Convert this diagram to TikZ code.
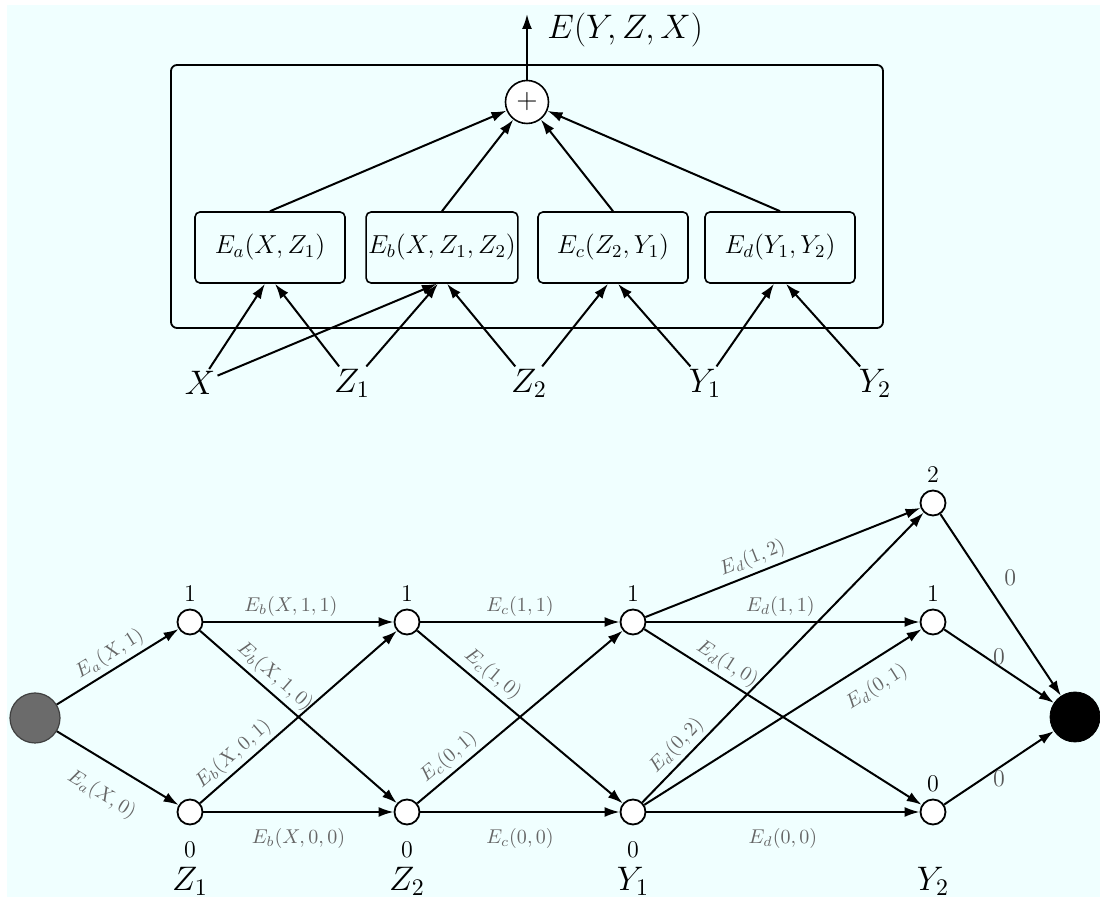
\documentclass[tikz,border=0pt]{standalone}
\usepackage{fix-cm}
\usetikzlibrary{positioning, arrows.meta, calc}
\definecolor{bgazure}{RGB}{240,255,255}

\begin{document}
\begin{tikzpicture}[
  x=0.5pt, y=-0.5pt,
  % Estilos de bloques
  outerbox/.style={draw, rectangle, rounded corners=3pt, line width=0.9pt},
  termbox/.style={draw, rectangle, rounded corners=2.5pt, minimum width=75pt, minimum height=35.5pt, inner sep=1pt, line width=0.8pt, font=\fontsize{13}{15}\selectfont},
  sumnode/.style={draw, circle, minimum size=21.5pt, inner sep=0pt, line width=0.8pt, fill=white, font=\fontsize{14}{16}\selectfont},
  varlabel/.style={inner sep=1pt, font=\fontsize{17}{20}\selectfont},
  % Estilos del grafo
  statenode/.style={draw, circle, minimum size=12.5pt, inner sep=0pt, fill=white, line width=0.9pt},
  srcnode/.style={draw=black!75, circle, fill=black!58, minimum size=25pt, line width=0.6pt},
  sinknode/.style={draw, circle, fill=black, minimum size=25pt},
  numlabel/.style={font=\fontsize{12}{14}\selectfont},
  zerolabel/.style={font=\fontsize{12}{14}\selectfont, text=black!65},
  elabel/.style={font=\fontsize{10}{12}\selectfont, text=black!60, sloped, inner sep=2pt},
  % Estilos de flechas
  line/.style={draw, -{Latex[length=7.5pt, width=5pt]}, line width=1pt}
]

  \fill[bgazure] (7,5) rectangle (1100,897);
  \useasboundingbox (0,0) rectangle (1100,897);

  % ==========================================
  % TOP: ENERGY DECOMPOSITION
  % ==========================================
  \node[outerbox, minimum width=356pt, minimum height=131.5pt] (model) at (527,196.5) {};
  \node[sumnode] (sum) at (527,102) {$+$};

  \node[termbox] (ea) at (270,247.5) {$E_a(X,Z_1)$};
  \node[termbox] (eb) at (442,247.5) {$E_b(X,Z_1,Z_2)$};
  \node[termbox] (ec) at (613,247.5) {$E_c(Z_2,Y_1)$};
  \node[termbox] (ed) at (780,247.5) {$E_d(Y_1,Y_2)$};

  \coordinate (outtip) at (527,14);
  \draw[line] (sum) -- (outtip);
  \node[varlabel, anchor=west] (outlbl) at (545,30) {$E(Y,Z,X)$};

  \draw[line] (ea.north) -- (sum);
  \draw[line] (eb.north) -- (sum);
  \draw[line] (ec.north) -- (sum);
  \draw[line] (ed.north) -- (sum);

  % Variables
  \node[varlabel] (vx) at (200,383) {$X$};
  \node[varlabel] (vz1) at (352,383) {$Z_1$};
  \node[varlabel] (vz2) at (529,383) {$Z_2$};
  \node[varlabel] (vy1) at (705,383) {$Y_1$};
  \node[varlabel] (vy2) at (875,383) {$Y_2$};

  \draw[line] (vx) -- ([xshift=-2.5pt]ea.south);
  \draw[line] (vz1) -- ([xshift=2.5pt]ea.south);
  \draw[line] (vx) -- ([xshift=-2.5pt]eb.south);
  \draw[line] (vz1) -- ([xshift=-2pt]eb.south);
  \draw[line] (vz2) -- ([xshift=2.5pt]eb.south);
  \draw[line] (vz2) -- ([xshift=-2.5pt]ec.south);
  \draw[line] (vy1) -- ([xshift=2.5pt]ec.south);
  \draw[line] (vy1) -- ([xshift=-3pt]ed.south);
  \draw[line] (vy2) -- ([xshift=3pt]ed.south);

  % ==========================================
  % BOTTOM: STATE GRAPH
  % ==========================================
  \node[srcnode] (src) at (35,718) {};
  \node[statenode, label={[numlabel]above:1}] (z1a) at (190,622) {};
  \node[statenode, label={[numlabel, label distance=4.5pt]below:0}] (z1b) at (190,812) {};
  \node[statenode, label={[numlabel]above:1}] (z2a) at (407,622) {};
  \node[statenode, label={[numlabel, label distance=4.5pt]below:0}] (z2b) at (407,812) {};
  \node[statenode, label={[numlabel]above:1}] (y1a) at (633,622) {};
  \node[statenode, label={[numlabel, label distance=4.5pt]below:0}] (y1b) at (633,812) {};
  \node[statenode, label={[numlabel]above:2}] (y2c) at (933,503) {};
  \node[statenode, label={[numlabel]above:1}] (y2b) at (933,622) {};
  \node[statenode, label={[numlabel]above:0}] (y2a) at (933,812) {};
  \node[sinknode] (snk) at (1075,717) {};

  \node[varlabel] (gz1) at (190,881) {$Z_1$};
  \node[varlabel] (gz2) at (407,881) {$Z_2$};
  \node[varlabel] (gy1) at (633,881) {$Y_1$};
  \node[varlabel] (gy2) at (933,881) {$Y_2$};

  % X -> Z1
  \draw[line] (src) -- node[elabel, above] {$E_a(X,1)$} (z1a);
  \draw[line] (src) -- node[elabel, below=8pt] {$E_a(X,0)$} (z1b);

  % Z1 -> Z2
  \draw[line] (z1a) -- node[elabel, above, pos=0.46] {$E_b(X,1,1)$} (z2a);
  \draw[line] (z1a) -- node[elabel, above, pos=0.33] {$E_b(X,1,0)$} (z2b);
  \draw[line] (z1b) -- node[elabel, above, pos=0.22] {$E_b(X,0,1)$} (z2a);
  \draw[line] (z1b) -- node[elabel, below=6pt] {$E_b(X,0,0)$} (z2b);

  % Z2 -> Y1
  \draw[line] (z2a) -- node[elabel, above] {$E_c(1,1)$} (y1a);
  \draw[line] (z2a) -- node[elabel, above, pos=0.32] {$E_c(1,0)$} (y1b);
  \draw[line] (z2b) -- node[elabel, above, pos=0.2] {$E_c(0,1)$} (y1a);
  \draw[line] (z2b) -- node[elabel, below=6pt] {$E_c(0,0)$} (y1b);

  % Y1 -> Y2
  \draw[line] (y1a) -- node[elabel, above, pos=0.41] {$E_d(1,2)$} (y2c);
  \draw[line] (y1a) -- node[elabel, above, pos=0.49] {$E_d(1,1)$} (y2b);
  \draw[line] (y1a) -- node[elabel, above, pos=0.27] {$E_d(1,0)$} (y2a);
  \draw[line] (y1b) -- node[elabel, above, pos=0.16] {$E_d(0,2)$} (y2c);
  \draw[line] (y1b) -- node[elabel, below=5pt, pos=0.79] {$E_d(0,1)$} (y2b);
  \draw[line] (y1b) -- node[elabel, below=6pt] {$E_d(0,0)$} (y2a);

  % Y2 -> end
  \draw[line] (y2c) -- node[zerolabel, pos=0.35, right=7pt] {0} (snk);
  \draw[line] (y2b) -- node[zerolabel, above, inner sep=0pt] {0} (snk);
  \draw[line] (y2a) -- node[zerolabel, below, inner sep=1pt] {0} (snk);

\end{tikzpicture}
\end{document}
